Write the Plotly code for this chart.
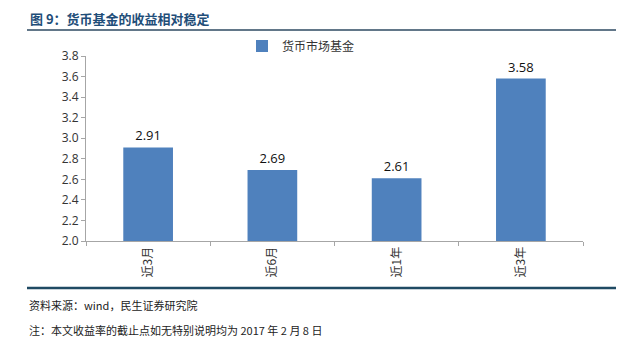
import plotly.graph_objects as go

categories = ["近3月", "近6月", "近1年", "近3年"]
values = [2.91, 2.69, 2.61, 3.58]
value_labels = ["2.91", "2.69", "2.61", "3.58"]
series_name = "货币市场基金"
y_ticks = [2.0, 2.2, 2.4, 2.6, 2.8, 3.0, 3.2, 3.4, 3.6, 3.8]
title_text = "图 9：货币基金的收益相对稳定"
source_text = "资料来源：wind，民生证券研究院"
note_text = "注：本文收益率的截止点如无特别说明均为 2017 年 2 月 8 日"

W, H = 640, 357
L, R, T, B = 86, 583, 56, 241

def px(x):
    return (x - L) / (R - L)

def py(y):
    return (B - y) / (B - T)

CJK = "Noto Sans CJK SC"

fig = go.Figure()
fig.add_trace(go.Bar(
    x=categories, y=values, name=series_name,
    marker=dict(color="#4F81BD", line=dict(width=0)),
    text=value_labels, textposition="outside", cliponaxis=False,
    textfont=dict(family="Open Sans, sans-serif", size=13, color="#111111"),
    showlegend=True,
))

fig.update_layout(
    width=W, height=H,
    margin=dict(l=L, r=W - R, t=T, b=H - B, autoexpand=False),
    paper_bgcolor="white", plot_bgcolor="white",
    bargap=0.6,
    showlegend=True,
    legend=dict(orientation="h", x=px(242), y=py(46), xanchor="left", yanchor="middle",
                font=dict(family=CJK, size=12, color="#333333"),
                itemwidth=30, bgcolor="rgba(0,0,0,0)", traceorder="normal"),
    xaxis=dict(type="category", showline=True, linecolor="#A6A6A6", linewidth=1,
               ticks="outside", ticklen=4, tickcolor="#A6A6A6", tickson="boundaries",
               tickangle=-90, tickfont=dict(family=CJK, size=12, color="#333333"),
               showgrid=False, zeroline=False, automargin=False),
    yaxis=dict(range=[2.0, 3.8], tickvals=y_ticks, tickformat=".1f",
               showline=True, linecolor="#A6A6A6", linewidth=1,
               ticks="outside", ticklen=4, tickcolor="#A6A6A6",
               tickfont=dict(family="Open Sans, sans-serif", size=12, color="#333333"),
               showgrid=False, zeroline=False, automargin=False),
)

fig.add_annotation(text="<b>" + title_text + "</b>", xref="paper", yref="paper",
                   x=px(28), y=py(18), xanchor="left", yanchor="middle", showarrow=False,
                   font=dict(family=CJK, size=13, color="#1F4E79"))
fig.add_annotation(text=source_text, xref="paper", yref="paper",
                   x=px(27), y=py(305), xanchor="left", yanchor="middle", showarrow=False,
                   font=dict(family=CJK, size=11, color="#222222"))
fig.add_annotation(text=note_text, xref="paper", yref="paper",
                   x=px(27), y=py(330), xanchor="left", yanchor="middle", showarrow=False,
                   font=dict(family=CJK, size=11, color="#222222"))

fig.add_shape(type="line", xref="paper", yref="paper", x0=px(27), x1=px(616),
              y0=py(30), y1=py(30), line=dict(color="#2E4A62", width=1.5))
fig.add_shape(type="line", xref="paper", yref="paper", x0=px(27), x1=px(616),
              y0=py(288), y1=py(288), line=dict(color="#1F4A63", width=2.5))

fig.write_html("out.html", config={"displayModeBar": False},
               post_script="document.body.style.margin='0';document.body.style.padding='0';")
